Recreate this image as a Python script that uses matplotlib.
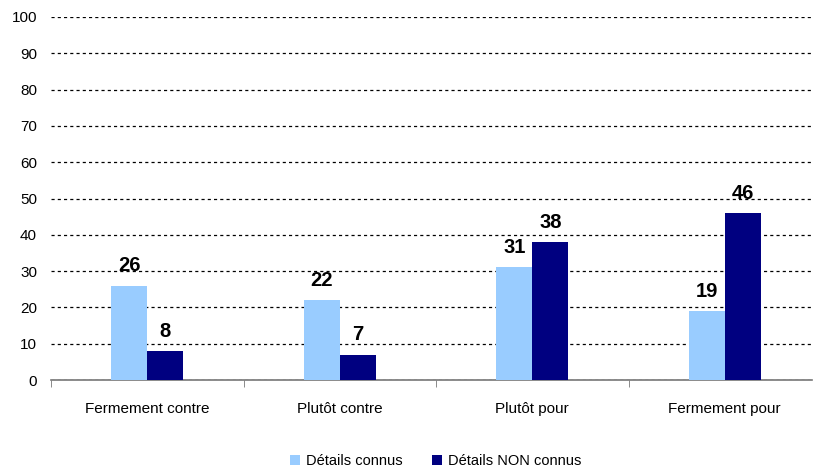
import matplotlib.pyplot as plt
import numpy as np

categories = ['Fermement contre', 'Plutôt contre', 'Plutôt pour', 'Fermement pour']
connus = [26, 22, 31, 19]
non_connus = [8, 7, 38, 46]
series_names = ['Détails connus', 'Détails NON connus']

plt.rcParams['font.family'] = ['Liberation Sans', 'DejaVu Sans']

fig = plt.figure(figsize=(8.14, 4.72), dpi=100)
ax = fig.add_axes([51 / 814, 1 - 380 / 472, 761 / 814, 363 / 472])

x = np.arange(len(categories))
w = 0.187
b1 = ax.bar(x - w / 2, connus, w, color='#99ccff', label=series_names[0], zorder=3)
b2 = ax.bar(x + w / 2, non_connus, w, color='#000080', label=series_names[1], zorder=3)

for bars in (b1, b2):
    for r in bars:
        ax.text(r.get_x() + r.get_width() / 2, r.get_height() + 2.8, f'{r.get_height():.0f}',
                ha='center', va='bottom', fontsize=14.5, fontweight='bold', color='black')

ax.set_yticks(range(0, 101, 10))
ax.yaxis.grid(True, linestyle=(0, (2.5, 2.5)), color='black', linewidth=0.9, zorder=0)

ax.set_xticks(x)
ax.set_xticklabels(categories, fontsize=11)
ax.tick_params(axis='x', length=0, pad=16)
ax.set_xticks(np.arange(-0.5, 3.6, 1), minor=True)
ax.tick_params(axis='x', which='minor', length=5, color='#777777', direction='out')
ax.tick_params(axis='y', length=0, labelsize=11, pad=10)

ax.set_ylim(0, 100)
ax.set_xlim(-0.5, 3.453)

for s in ['top', 'right', 'left']:
    ax.spines[s].set_visible(False)
ax.spines['bottom'].set_color('#777777')
ax.spines['bottom'].set_linewidth(1.2)

fig.legend(loc='lower center', bbox_to_anchor=(0.535, -0.02), ncol=2, frameon=False,
           fontsize=10.5, handlelength=0.7, handleheight=0.7, columnspacing=2.0, handletextpad=0.4)

fig.savefig('out.png', dpi=100)
